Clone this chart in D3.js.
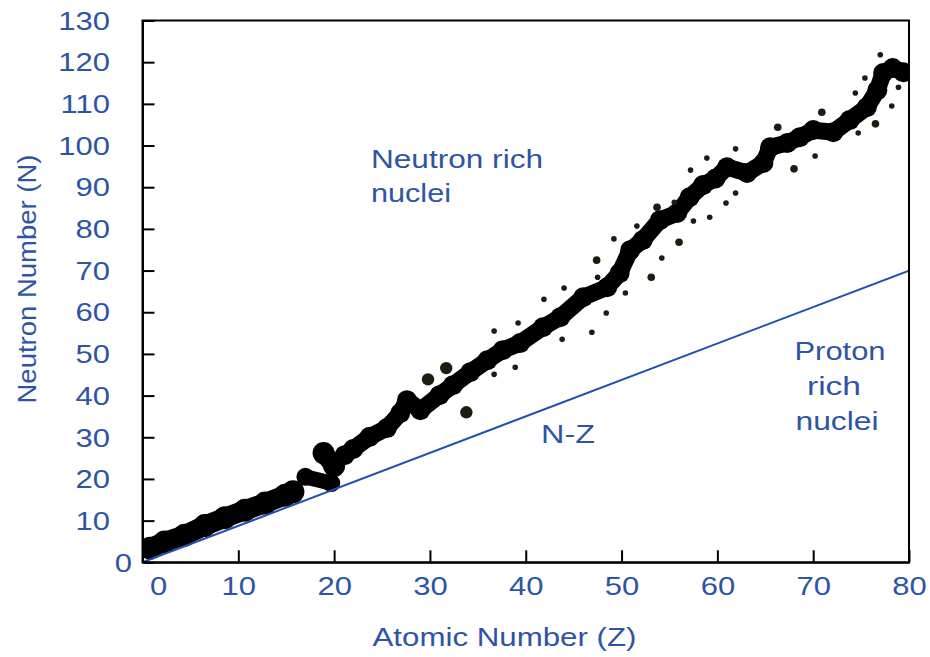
<!DOCTYPE html>
<html>
<head>
<meta charset="utf-8">
<script src="https://cdn.jsdelivr.net/npm/d3@7"></script>
<style>
body { margin: 0; background: #fff; }
text { font-family: "Liberation Sans", Arial, sans-serif; font-size: 25px; fill: #2d55a5; }
</style>
</head>
<body>
<svg id="chart" width="930" height="657"></svg>
<script>
(function() {
  "use strict";

  // axis ticks
  var xTicks = [0, 10, 20, 30, 40, 50, 60, 70, 80];
  var yTicks = [0, 10, 20, 30, 40, 50, 60, 70, 80, 90, 100, 110, 120, 130];

  // stable band, light nuclei (Z < 16)
  var lightZ = [0.8, 2.3, 4.4, 6.5, 8.6, 10.7, 12.8, 14.9, 15.7];
  var lightN = [3.4, 4.9, 6.5, 8.8, 10.7, 12.5, 14.2, 16.1, 16.9];

  // the two odd blobs around Z = 18..20
  var islandZ = [[17.0, 19.7], [18.9, 20.0]];
  var islandN = [[20.5, 19.0], [26.2, 23.1]];

  // stable band, Z > 20
  var heavyZ = [21.1, 22.0, 23.7, 25.5, 26.9, 27.6, 29.0, 31.0, 32.4, 34.2, 36.0, 37.6, 39.4,
                41.8, 43.6, 46.0, 48.5, 49.8, 50.9, 52.2, 54.0, 55.8, 57.1, 58.5, 59.8, 61.0,
                63.1, 64.8, 65.5, 67.3, 68.6, 70.0, 72.1, 73.8, 75.6, 76.7, 77.3, 78.3, 79.4];
  var heavyN = [25.7, 27.2, 30.1, 32.2, 35.8, 38.9, 36.5, 40.1, 42.5, 45.6, 48.5, 50.9, 52.6,
                56.4, 58.8, 63.6, 66.0, 69.4, 74.9, 77.3, 82.1, 83.8, 87.6, 90.5, 92.1, 94.8,
                93.4, 95.8, 99.6, 100.6, 102.0, 103.7, 103.2, 106.1, 109.2, 113.3, 117.4, 118.6, 117.6];

  // scattered isotopes
  var smallZ = [36.7, 39.2, 38.9, 36.7, 41.9, 43.8, 44.0, 46.9, 47.5, 48.4, 49.2, 50.4, 51.6,
                54.2, 55.5, 57.2, 57.5, 58.9, 59.2, 60.9, 61.9, 61.9, 70.2, 74.4, 74.7, 75.4,
                77.0, 78.2, 78.9];
  var smallN = [55.5, 57.4, 46.8, 45.1, 63.1, 53.5, 65.8, 55.2, 68.4, 59.8, 77.6, 64.6, 80.7,
                73.0, 86.4, 94.1, 81.9, 97.0, 82.8, 86.2, 88.6, 99.2, 97.5, 112.6, 103.0, 116.2,
                121.8, 109.5, 114.0];
  var mediumZ = [47.4, 53.1, 53.7, 56.0, 66.3, 68.0, 70.9, 76.5];
  var mediumN = [72.5, 68.4, 85.2, 76.8, 104.4, 94.4, 108.0, 105.2];
  var bigZ = [29.8, 31.7, 33.8];
  var bigN = [43.9, 46.6, 36.0];

  // reference line
  var refZ = [0, 80];
  var refN = [0, 70];

  var blue = "#2d55a5";
  var x = d3.scaleLinear().domain([0, 80]).range([142.5, 909]);
  var y = d3.scaleLinear().domain([0, 130]).range([562.3, 20.5]);
  var svg = d3.select("#chart");

  svg.append("defs").append("clipPath").attr("id", "plot")
    .append("rect")
      .attr("x", x(0)).attr("y", y(130))
      .attr("width", x(80) - x(0)).attr("height", y(0) - y(130));

  var plot = svg.append("g").attr("clip-path", "url(#plot)");

  var line = d3.line()
    .x(function(d) { return x(d[0]); })
    .y(function(d) { return y(d[1]); });

  function band(zs, ns, width) {
    var pts = d3.zip(zs, ns);
    plot.append("path")
      .attr("d", line(pts))
      .attr("fill", "none")
      .attr("stroke", "#000")
      .attr("stroke-width", width)
      .attr("stroke-linejoin", "round")
      .attr("stroke-linecap", "round");
    // lumpy edge
    plot.append("g").selectAll("circle")
      .data(pts)
      .enter().append("circle")
        .attr("cx", function(d) { return x(d[0]); })
        .attr("cy", function(d) { return y(d[1]); })
        .attr("r", width / 2 + 1.5)
        .attr("fill", "#000");
  }

  band(lightZ, lightN, 20);
  islandZ.forEach(function(zs, i) { band(zs, islandN[i], i === 0 ? 15 : 19); });
  band(heavyZ, heavyN, 17);

  function dots(zs, ns, r) {
    plot.append("g").selectAll("circle")
      .data(d3.zip(zs, ns))
      .enter().append("circle")
        .attr("cx", function(d) { return x(d[0]); })
        .attr("cy", function(d) { return y(d[1]); })
        .attr("r", r)
        .attr("fill", "#1c1c10");
  }
  dots(smallZ, smallN, 2.8);
  dots(mediumZ, mediumN, 3.8);
  dots(bigZ, bigN, 6.2);

  plot.append("path")
    .attr("d", line(d3.zip(refZ, refN)))
    .attr("stroke", "#2050b0")
    .attr("stroke-width", 2)
    .attr("fill", "none");

  // axes
  var yAxis = d3.axisLeft(y).tickValues(yTicks).tickSizeInner(-12).tickSizeOuter(0).tickPadding(0);
  var gy = svg.append("g").attr("transform", "translate(" + x(0) + ",0)").call(yAxis);
  gy.selectAll("text")
    .attr("x", 0)
    .attr("dy", "0.35em")
    .attr("fill", blue)
    .attr("text-anchor", "end")
    .attr("transform", function(d) { return "translate(" + (d === 0 ? -10.5 : -32.5) + ",0) scale(1.24,1)"; });

  var xAxis = d3.axisBottom(x).tickValues(xTicks).tickSizeInner(-12).tickSizeOuter(0).tickPadding(0);
  var gx = svg.append("g").attr("transform", "translate(0," + y(0) + ")").call(xAxis);
  gx.selectAll("text")
    .attr("y", 0)
    .attr("dy", 0)
    .attr("fill", blue)
    .attr("transform", function(d) { return "translate(" + (d === 0 ? 15.5 : 0) + ",33) scale(1.24,1)"; });

  [gx, gy].forEach(function(g) {
    g.attr("font-size", null).attr("font-family", null);
    g.selectAll("line").attr("stroke", "#000").attr("stroke-width", 2);
    g.select(".domain").attr("stroke", "#000").attr("stroke-width", 2);
  });

  svg.append("rect")
    .attr("x", x(0)).attr("y", y(130))
    .attr("width", x(80) - x(0)).attr("height", y(0) - y(130))
    .attr("fill", "none")
    .attr("stroke", "#000")
    .attr("stroke-width", 2);

  // labels
  function label(txt, px, py, len, anchor) {
    svg.append("text")
      .attr("x", px).attr("y", py)
      .attr("text-anchor", anchor || "start")
      .attr("textLength", len)
      .attr("lengthAdjust", "spacingAndGlyphs")
      .text(txt);
  }
  label("Neutron rich", 371, 168, 172);
  label("nuclei", 371, 202, 80);
  label("Proton", 840, 360, 91, "middle");
  label("rich", 834, 395, 54, "middle");
  label("nuclei", 837, 430, 83, "middle");
  label("N-Z", 568, 443, 54, "middle");
  label("Atomic Number (Z)", 372.5, 646, 264);

  svg.append("text")
    .attr("transform", "translate(36,279) rotate(-90)")
    .attr("text-anchor", "middle")
    .attr("textLength", 249)
    .attr("lengthAdjust", "spacingAndGlyphs")
    .text("Neutron Number (N)");
})();
</script>
</body>
</html>
